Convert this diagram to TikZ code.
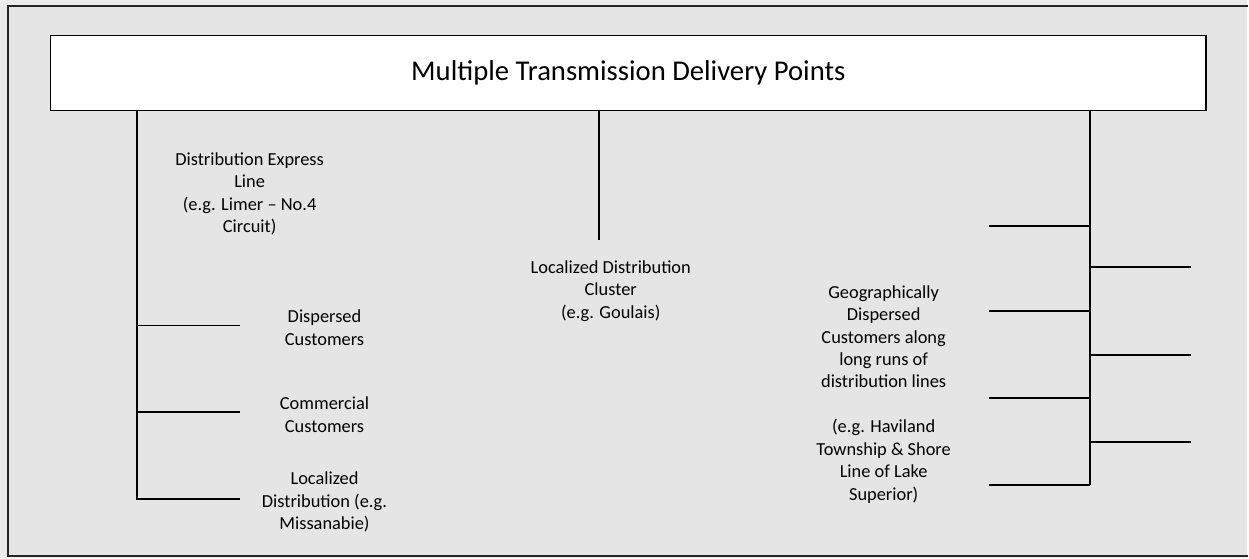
\documentclass[tikz,border=0pt]{standalone}
\usepackage{fontspec}
\setmainfont{Carlito}
\begin{document}
\begin{tikzpicture}[x=1pt,y=-1pt,
  wire/.style={draw=black,line width=1.8pt},
  label/.style={align=center,inner sep=0pt,font=\fontsize{18.4}{22.5}\selectfont},
  headbox/.style={draw=black,line width=1.2pt,fill=white,minimum width=1157pt,minimum height=75pt,
    font=\fontsize{28.7}{33}\selectfont}]
% page and panel background
\fill[gray!15] (0,0) rectangle (1249,559);
\fill[gray!20] (8,6) rectangle (1249,557);
\draw[line width=1.8pt,black!85] (1250,6) -- (8,6) -- (8,557) -- (1250,557);
\useasboundingbox (0,0) rectangle (1249,559);

% header
\node[headbox] (title) at (629.3,73.3) {Multiple Transmission Delivery Points};

% left trunk: express line
\coordinate (lt) at (137,111);
\coordinate (lb) at (137,500);
\coordinate (l1) at (137,326);
\coordinate (l2) at (137,413);
\coordinate (e1) at (240,326);
\coordinate (e2) at (240,413);
\coordinate (e3) at (240,500);
\draw[wire] (lt) -- (lb) -- (e3);
\draw[wire] (l1) -- (e1);
\draw[wire] (l2) -- (e2);

\node[label] (express) at (250,194) {Distribution Express\\Line\\(e.g. Limer -- No.4\\Circuit)};
\node[label] (dispersed) at (325,328) {Dispersed\\Customers};
\node[label] (commercial) at (325,415.5) {Commercial\\Customers};
\node[label] (localized) at (325,503) {Localized\\Distribution (e.g.\\Missanabie)};

% middle trunk: cluster
\coordinate (mt) at (600.3,111);
\coordinate (mb) at (600.3,240);
\draw[wire] (mt) -- (mb);
\node[label] (cluster) at (611.7,291.5) {Localized Distribution\\Cluster\\(e.g. Goulais)};

% right trunk: long runs
\coordinate (rt) at (1091.7,111);
\coordinate (rb) at (1091.7,486);
\draw[wire] (rt) -- (rb);
\foreach \yy [count=\i] in {226.7,311.7,398.3,486}{
  \coordinate (ra\i) at (1091.7,\yy);
  \coordinate (rl\i) at (990,\yy);
  \draw[wire] (ra\i) -- (rl\i);
}
\foreach \yy [count=\i] in {267.3,355.3,442.3}{
  \coordinate (rb\i) at (1091.7,\yy);
  \coordinate (rr\i) at (1193,\yy);
  \draw[wire] (rb\i) -- (rr\i);
}
\node[label] (geo) at (885,394.9) {Geographically\\Dispersed\\Customers along\\long runs of\\distribution lines\\[22.5pt](e.g. Haviland\\Township \& Shore\\Line of Lake\\Superior)};
\end{tikzpicture}
\end{document}
